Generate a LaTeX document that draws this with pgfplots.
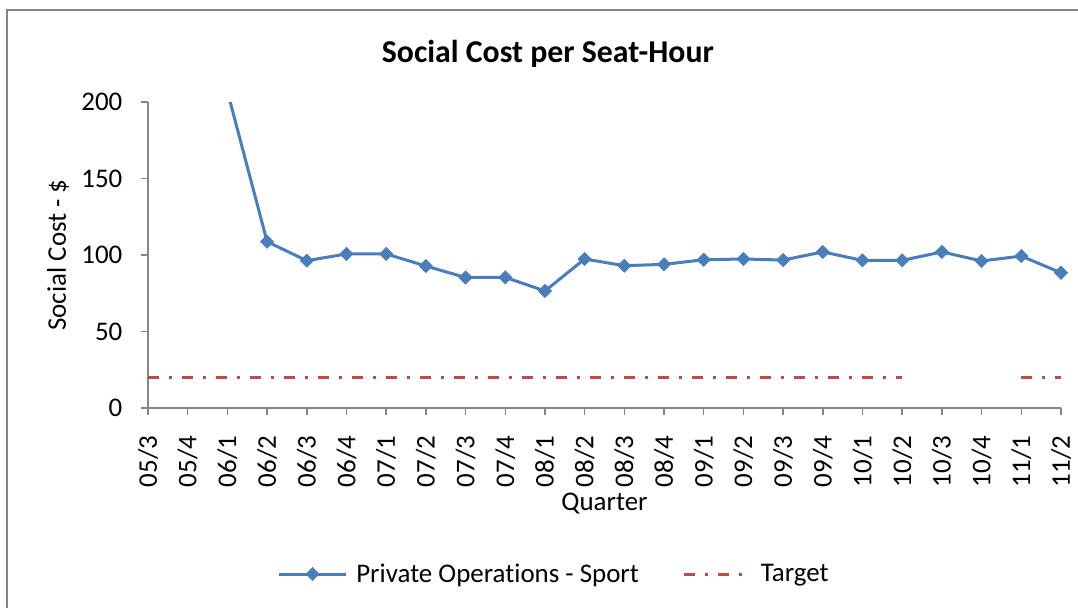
\documentclass[border=0pt]{standalone}
\usepackage{pgfplots}
\pgfplotsset{compat=1.18}
\usepackage{fontspec}
\setmainfont{Carlito}[Ligatures={NoCommon}]
\definecolor{serblue}{HTML}{4A7EBB}
\definecolor{sered}{HTML}{BE4B48}
\definecolor{axgray}{HTML}{868686}
\newcommand{\lbl}{\fontsize{20.2}{24}\selectfont}
\begin{document}
\begin{tikzpicture}
\useasboundingbox (0,0) rectangle (808.5pt,-456pt);
\draw[axgray, line width=1.5pt] (5.4pt,-456pt) -- (5.4pt,-7.7pt) -- (808.5pt,-7.7pt);
\begin{axis}[
  at={(111pt,-306pt)}, anchor=south west,
  scale only axis, width=684.75pt, height=229.5pt,
  xmin=0, xmax=23, ymin=0, ymax=200,
  axis x line=bottom, axis y line=left,
  axis line style={axgray, line width=1.1pt, -},
  xtick={0,...,23},
  xticklabels={05/3,05/4,06/1,06/2,06/3,06/4,07/1,07/2,07/3,07/4,08/1,08/2,08/3,08/4,09/1,09/2,09/3,09/4,10/1,10/2,10/3,10/4,11/1,11/2},
  ytick={0,50,100,150,200},
  tick align=outside, major tick length=5.25pt,
  tick style={axgray, line width=1.1pt},
  ticklabel style={font=\lbl},
  /pgf/number format/assume math mode=true,
  xticklabel style={rotate=90, anchor=east, inner sep=0pt},
  yticklabel style={anchor=east, inner sep=0pt},
  xticklabel shift=15.5pt,
  yticklabel shift=13.8pt,
  title={Social Cost per Seat-Hour},
  title style={font=\bfseries\fontsize{23.85}{28}\selectfont, at={(axis description cs:0.438,1.130)}, anchor=center},
  xlabel={Quarter},
  xlabel style={font=\lbl, at={(axis description cs:0.5,-0.312)}, anchor=center},
  ylabel={Social Cost - \$},
  ylabel style={font=\lbl, at={(axis description cs:-0.0986,0.5)}, anchor=center},
  legend image code/.code={\draw[mark repeat=2,mark phase=2,#1] plot coordinates {(0pt,0pt)(25.1pt,0pt)(50.25pt,0pt)};},
  legend style={at={(axis description cs:0.4452,-0.5425)}, anchor=center, draw=none, fill=none,
    legend columns=2, font=\lbl,
    /tikz/every odd column/.append style={column sep=4.5pt},
    /tikz/every even column/.append style={column sep=30.5pt}, cells={anchor=west}},
]
\addplot[serblue, line width=2.25pt, mark=square*, mark size=3.5pt, mark options={rotate=45, solid, line width=0.5pt}]
  coordinates {(2,207)(3,108.7)(4,96.3)(5,100.7)(6,100.7)(7,92.8)(8,85.3)(9,85.4)(10,76.5)(11,97.4)(12,93.0)(13,93.9)(14,96.9)(15,97.4)(16,96.7)(17,102.0)(18,96.5)(19,96.5)(20,102.0)(21,96.1)(22,99.3)(23,88.4)};
\addlegendentry{Private Operations - Sport}
\addplot[sered, line width=2.25pt, dash pattern=on 8.25pt off 7.5pt on 2.25pt off 7.5pt, unbounded coords=jump]
  coordinates {(0,20)(1,20)(2,20)(3,20)(4,20)(5,20)(6,20)(7,20)(8,20)(9,20)(10,20)(11,20)(12,20)(13,20)(14,20)(15,20)(16,20)(17,20)(18,20)(19,20)(20,nan)(21,nan)(22,20)(23,20)};
\addlegendentry{Target}
\end{axis}
\end{tikzpicture}
\end{document}
